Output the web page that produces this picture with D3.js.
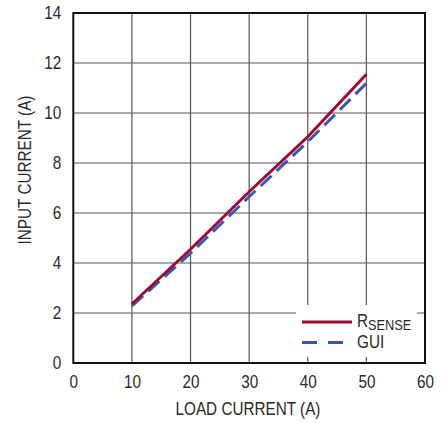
<!DOCTYPE html>
<html><head><meta charset="utf-8">
<script src="https://cdn.jsdelivr.net/npm/d3@7"></script>
<style>
body{margin:0;background:#fff;}
text{font-family:"Liberation Sans",sans-serif;fill:#2a2a2a;font-weight:normal;}
</style></head><body>
<svg id="c" width="448" height="423"></svg>
<script>
const loadCurrent = [10, 20, 30, 40, 50];
const rsense = [2.36, 4.55, 6.85, 9.05, 11.55];
const gui = [2.28, 4.39, 6.65, 8.85, 11.19];
const xTicks = [0, 10, 20, 30, 40, 50, 60];
const yTicks = [0, 2, 4, 6, 8, 10, 12, 14];

const svg = d3.select("#c");
const L = 73.3, R = 425, T = 13, B = 363;
const FS = 18, SX = 0.85;
const x = d3.scaleLinear().domain([0, 60]).range([L, R]);
const y = d3.scaleLinear().domain([0, 14]).range([B, T]);

// grid
const g = svg.append("g");
g.selectAll(".vg").data(xTicks.slice(1, -1)).enter().append("line")
  .attr("x1", d => x(d)).attr("x2", d => x(d)).attr("y1", T).attr("y2", B)
  .attr("stroke", "#555").attr("stroke-width", 1.2);
g.selectAll(".hg").data(yTicks.slice(1, -1)).enter().append("line")
  .attr("y1", d => y(d)).attr("y2", d => y(d)).attr("x1", L).attr("x2", R)
  .attr("stroke", "#555").attr("stroke-width", 1.2);

// axes (labels only)
const xa = svg.append("g").attr("transform", `translate(0,${B})`)
  .call(d3.axisBottom(x).tickValues(xTicks).tickSize(0).tickPadding(12));
xa.select(".domain").remove();
xa.selectAll("text").attr("font-size", FS).attr("font-family", null).attr("fill", null)
  .attr("transform", `scale(${SX},1)`);
const ya = svg.append("g").attr("transform", `translate(${L},0)`)
  .call(d3.axisLeft(y).tickValues(yTicks).tickSize(0).tickPadding(12));
ya.select(".domain").remove();
ya.selectAll("text").attr("font-size", FS).attr("font-family", null).attr("fill", null)
  .attr("x", -12 / SX).attr("transform", `scale(${SX},1)`);

// legend background
svg.append("rect").attr("x", 296).attr("y", 305).attr("width", 121).attr("height", 52).attr("fill", "#fff");

// lines
const line = d3.line().x((d, i) => x(loadCurrent[i])).y(d => y(d));
svg.append("path").datum(gui).attr("d", line).attr("fill", "none")
  .attr("stroke", "#3a57b0").attr("stroke-width", 3).attr("stroke-dasharray", "15,7");
svg.append("path").datum(rsense).attr("d", line).attr("fill", "none")
  .attr("stroke", "#9b0a33").attr("stroke-width", 3);

// frame
svg.append("rect").attr("x", L).attr("y", T).attr("width", R - L).attr("height", B - T)
  .attr("fill", "none").attr("stroke", "#111").attr("stroke-width", 2);

// legend
svg.append("line").attr("x1", 302).attr("x2", 352).attr("y1", 322).attr("y2", 322)
  .attr("stroke", "#9b0a33").attr("stroke-width", 3);
svg.append("line").attr("x1", 302).attr("x2", 352).attr("y1", 342.5).attr("y2", 342.5)
  .attr("stroke", "#3a57b0").attr("stroke-width", 3).attr("stroke-dasharray", "15,11");
const t1 = svg.append("text").attr("transform", `translate(357,327) scale(${SX},1)`).attr("font-size", FS);
t1.append("tspan").text("R");
t1.append("tspan").attr("dy", 3).attr("font-size", 15).text("SENSE");
svg.append("text").attr("transform", `translate(357,348) scale(${SX},1)`).attr("font-size", FS).text("GUI");

// titles
svg.append("text").attr("transform", `translate(248,415) scale(${SX},1)`).attr("text-anchor", "middle")
  .attr("font-size", FS).text("LOAD CURRENT (A)");
svg.append("text").attr("transform", `translate(31,170) rotate(-90) scale(${SX},1)`).attr("text-anchor", "middle")
  .attr("font-size", FS).text("INPUT CURRENT  (A)");
</script></body></html>
